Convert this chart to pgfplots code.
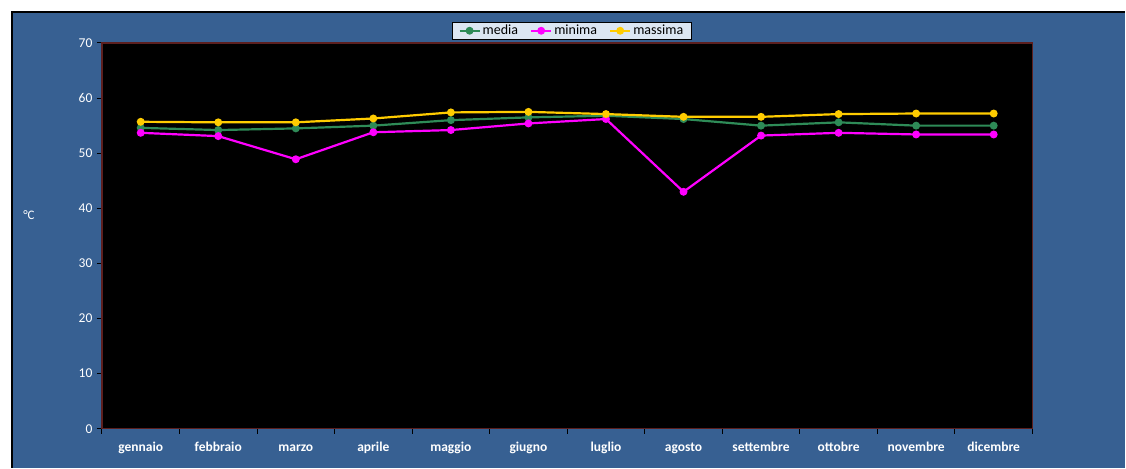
\documentclass[border=0pt]{standalone}
\usepackage{fontspec}
\setmainfont{Carlito}
\usepackage{pgfplots}
\pgfplotsset{compat=1.18}
\definecolor{bgblue}{HTML}{376092}
\definecolor{cmedia}{HTML}{2E8B57}
\definecolor{cmin}{HTML}{FF00FF}
\definecolor{cmax}{HTML}{FFCC00}
\definecolor{frame}{HTML}{5C1F1F}
\definecolor{legfill}{HTML}{DCE6F2}
\begin{document}
\fontsize{13}{15}\selectfont
\begin{tikzpicture}[x=1pt,y=1pt]
\fill[white] (0,0) rectangle (1126,468);
\fill[bgblue] (12,0) rectangle (1126,456);
\draw[black,line width=1.2pt] (12,0) -- (12,456) -- (1126,456);
\node[white,anchor=center] at (29,253) {°C};
\begin{axis}[
  at={(102pt,39pt)}, anchor=south west,
  scale only axis, width=931pt, height=386pt,
  xmin=-0.5, xmax=11.5, ymin=0, ymax=70,
  axis background/.style={fill=black},
  axis line style={frame, line width=1.3pt},
  ytick={0,10,...,70},
  xtick={0,...,11},
  xticklabels={gennaio,febbraio,marzo,aprile,maggio,giugno,luglio,agosto,settembre,ottobre,novembre,dicembre},
  minor xtick={-0.5,0.5,...,11.5},
  major x tick style={draw=none},
  minor tick length=5pt, major tick length=5pt,
  xtick pos=bottom, ytick pos=left,
  tick align=outside,
  tick style={black, line width=1pt},
  xticklabel style={white, font=\fontsize{13.5}{15}\selectfont\bfseries, anchor=base, yshift=-18pt},
  yticklabel style={white, font=\fontsize{13.5}{15}\selectfont},
  /pgf/number format/assume math mode=true,
  legend columns=3,
  legend style={at={(0.505,1)}, anchor=south, yshift=3pt, fill=legfill, draw=black, line width=0.8pt,
    font=\fontsize{14}{16}\selectfont, inner xsep=6pt, inner ysep=1pt,
    /tikz/every even column/.append style={column sep=10pt}},
  legend image code/.code={\draw[#1, line width=2.2pt] (0pt,0pt) -- (20pt,0pt); \fill[#1] (10pt,0pt) circle (2.8pt);},
]
\addplot[cmedia, line width=2.2pt, mark=*, mark size=2.8pt] coordinates {
(0,54.6) (1,54.2) (2,54.5) (3,55.0) (4,56.0) (5,56.5) (6,56.8) (7,56.2) (8,55.0) (9,55.6) (10,55.0) (11,55.0)};
\addlegendentry{media}
\addplot[cmin, line width=2.2pt, mark=*, mark size=2.8pt] coordinates {
(0,53.7) (1,53.1) (2,48.9) (3,53.8) (4,54.2) (5,55.4) (6,56.2) (7,43.0) (8,53.2) (9,53.7) (10,53.4) (11,53.4)};
\addlegendentry{minima}
\addplot[cmax, line width=2.2pt, mark=*, mark size=2.8pt] coordinates {
(0,55.7) (1,55.6) (2,55.6) (3,56.3) (4,57.4) (5,57.5) (6,57.1) (7,56.6) (8,56.6) (9,57.1) (10,57.2) (11,57.2)};
\addlegendentry{massima}
\end{axis}
\end{tikzpicture}
\end{document}
